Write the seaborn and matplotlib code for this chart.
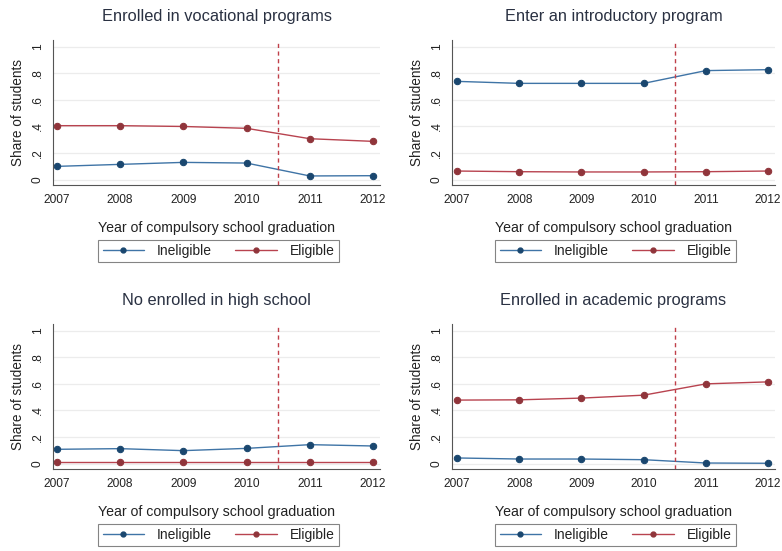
import matplotlib
matplotlib.use("Agg")
import matplotlib.pyplot as plt
import seaborn as sns
import pandas as pd
from matplotlib.lines import Line2D

sns.set_style("white")
plt.rcParams['font.family'] = ['Liberation Sans', 'DejaVu Sans']

years = [2007, 2008, 2009, 2010, 2011, 2012]
groups = ["Ineligible", "Eligible"]

titles = ["Enrolled in vocational programs", "Enter an introductory program",
          "No enrolled in high school", "Enrolled in academic programs"]

voc_inelig = [0.100, 0.115, 0.130, 0.125, 0.028, 0.030]
voc_elig = [0.406, 0.406, 0.400, 0.386, 0.308, 0.288]
intro_inelig = [0.739, 0.724, 0.724, 0.724, 0.820, 0.827]
intro_elig = [0.065, 0.060, 0.058, 0.058, 0.060, 0.065]
none_inelig = [0.108, 0.113, 0.098, 0.115, 0.143, 0.133]
none_elig = [0.010, 0.010, 0.010, 0.010, 0.010, 0.010]
acad_inelig = [0.043, 0.035, 0.035, 0.030, 0.005, 0.003]
acad_elig = [0.478, 0.480, 0.493, 0.515, 0.600, 0.615]

series = [(voc_inelig, voc_elig), (intro_inelig, intro_elig),
          (none_inelig, none_elig), (acad_inelig, acad_elig)]

yticks = [0, 0.2, 0.4, 0.6, 0.8, 1.0]
ytick_labels = ["0", ".2", ".4", ".6", ".8", "1"]
cutoff = 2010.5

line_colors = {"Ineligible": "#3f74a6", "Eligible": "#b8434f"}
marker_colors = {"Ineligible": "#1a476f", "Eligible": "#90353b"}
title_color = "#2a3142"

W, H = 782, 551
fig = plt.figure(figsize=(W / 100, H / 100), dpi=100)
fig.patch.set_facecolor("white")

# pixel boxes: (x0, x1, y_top, y_bottom)
boxes = [(53, 380, 40, 185), (452, 775, 40, 185),
         (53, 380, 324, 469), (452, 775, 324, 469)]
xlims = [(2006.94, 2012.11), (2006.92, 2012.11),
         (2006.94, 2012.11), (2006.92, 2012.11)]

for i, (box, (ine, eli), title) in enumerate(zip(boxes, series, titles)):
    x0, x1, yt, yb = box
    ax = fig.add_axes([x0 / W, 1 - yb / H, (x1 - x0) / W, (yb - yt) / H])
    df = pd.DataFrame({
        "year": years * 2,
        "share": list(ine) + list(eli),
        "group": ["Ineligible"] * len(years) + ["Eligible"] * len(years),
    })
    for g in ["Eligible", "Ineligible"]:
        sns.lineplot(data=df[df["group"] == g], x="year", y="share",
                     color=line_colors[g], marker="o", markersize=4.6,
                     markerfacecolor=marker_colors[g],
                     markeredgecolor=marker_colors[g],
                     linewidth=1.0, ax=ax, legend=False)
    ax.axvline(cutoff, color="#c0404a", linestyle=(0, (3, 2.5)), linewidth=1.0)
    ax.set_xlim(*xlims[i])
    ax.set_ylim(-0.04, 1.05)
    ax.set_yticks(yticks)
    ax.set_yticklabels(ytick_labels, rotation=90, va="center")
    ax.set_xticks(years)
    ax.set_xticklabels([str(y) for y in years])
    ax.tick_params(axis="both", labelsize=8.6, colors="#555555",
                   labelcolor="#222222", length=4, width=0.8,
                   direction="out", pad=2.5)
    ax.yaxis.grid(True, color="#ececec", linewidth=0.9)
    ax.xaxis.grid(False)
    for s in ["top", "right"]:
        ax.spines[s].set_visible(False)
    for s in ["left", "bottom"]:
        ax.spines[s].set_color("#555555")
        ax.spines[s].set_linewidth(0.8)
    ax.set_ylabel("Share of students", fontsize=9.8, color="#222222", labelpad=5)
    ax.set_xlabel("Year of compulsory school graduation", fontsize=10.2,
                  color="#222222", labelpad=11)
    ax.set_title(title, fontsize=11.8, color=title_color, pad=13.5)

    handles = [Line2D([0], [0], color=line_colors[g], marker="o", markersize=3.5,
                      markerfacecolor=marker_colors[g],
                      markeredgecolor=marker_colors[g], linewidth=1.0)
               for g in groups]
    cx = (x0 + x1) / 2 + 2
    cy = yb + 66
    leg = fig.legend(handles, groups, loc="center",
                     bbox_to_anchor=(cx / W, 1 - cy / H), ncol=2,
                     frameon=True, fontsize=10, handlelength=3.0,
                     columnspacing=1.7, handletextpad=0.9,
                     borderpad=0.3, borderaxespad=0, fancybox=False)
    leg.get_frame().set_edgecolor("#666666")
    leg.get_frame().set_linewidth(0.8)
    for t in leg.get_texts():
        t.set_color("#222222")

fig.savefig("out.png", dpi=100, facecolor="white")
